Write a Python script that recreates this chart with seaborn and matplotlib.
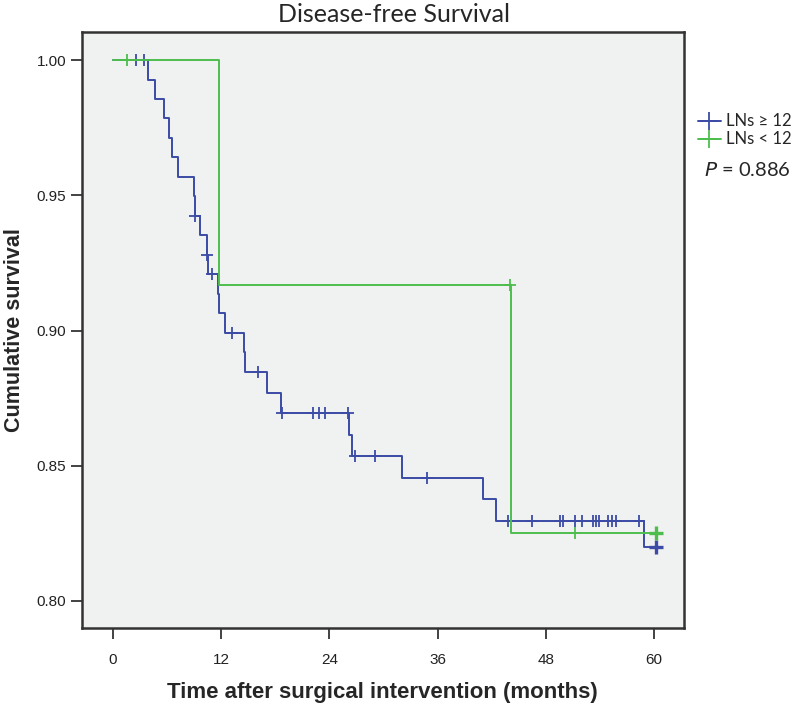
import numpy as np
import matplotlib
matplotlib.use("Agg")
import matplotlib.pyplot as plt
import seaborn as sns
from matplotlib.lines import Line2D

# Kaplan-Meier steps (months, cumulative survival)
blue_times = [0, 3.9, 4.7, 5.7, 6.2, 6.5, 7.2, 9.0, 9.1, 9.6, 10.4, 10.5, 11.7, 11.8, 12.4,
              14.5, 14.6, 17.1, 18.6, 26.2, 26.5, 32.1, 41.0, 42.5, 58.9, 60.2]
blue_surv = [1.0, 0.9928, 0.9856, 0.9784, 0.9712, 0.9640, 0.9568, 0.9496, 0.9424, 0.9352,
             0.9280, 0.9208, 0.9136, 0.9064, 0.8992, 0.8920, 0.8848, 0.8770, 0.8694, 0.8614,
             0.8536, 0.8456, 0.8376, 0.8297, 0.8200, 0.8200]
blue_censor = [2.6, 3.4, 9.1, 10.4, 11.0, 13.2, 16.1, 18.7, 22.2, 22.8, 23.5, 26.1, 26.9, 29.1,
               34.8, 43.8, 46.5, 49.6, 49.9, 51.2, 52.0, 53.3, 53.6, 53.9, 54.9, 55.4, 55.8,
               58.3, 60.2]

green_times = [0, 11.8, 44.2, 60.2]
green_surv = [1.0, 0.9167, 0.8250, 0.8250]
green_censor = [1.5, 44.0, 51.3, 60.2]

labels = ["LNs \u2265 12", "LNs < 12"]
colors = ["#3B4BA6", "#4DBE4D"]
x_ticks = [0, 12, 24, 36, 48, 60]
y_ticks = [0.80, 0.85, 0.90, 0.95, 1.00]
p_text = "0.886"


def step_value(times, surv, t):  # survival level of the curve at time t
    idx = np.searchsorted(times, t, side="right") - 1
    return np.array(surv)[idx]


sns.set_theme(style="white")
plt.rcParams["font.family"] = ["Liberation Sans", "DejaVu Sans"]
cal = ["Lato", "DejaVu Sans"]  # stand-in for the Calibri-like texts

fig = plt.figure(figsize=(8, 7.04), dpi=100)
ax = fig.add_axes([0.1025, 0.108, 0.752, 0.8466])
ax.set_facecolor("#F0F1F1")

groups = [(blue_times, blue_surv, blue_censor), (green_times, green_surv, green_censor)]
for (times, surv, cens), col in zip(groups, colors):
    sns.lineplot(x=times, y=surv, drawstyle="steps-post", estimator=None, color=col,
                 linewidth=1.4, ax=ax)
    cens_y = step_value(times, surv, np.array(cens))
    ax.plot(cens[:-1], cens_y[:-1], linestyle="none", marker="+", markersize=8,
            markeredgewidth=1.3, color=col)
    # several cases censored at the end of follow-up: heavier mark
    ax.plot(cens[-1:], cens_y[-1:], linestyle="none", marker="+", markersize=10,
            markeredgewidth=2.4, color=col)

ax.set_xlim(-3.44, 63.3)
ax.set_ylim(0.790, 1.0104)
ax.set_xticks(x_ticks)
ax.set_xticklabels([str(t) for t in x_ticks])
ax.set_yticks(y_ticks)
ax.set_yticklabels([f"{v:.2f}" for v in y_ticks])
ax.tick_params(axis="both", direction="out", length=8, width=1.2, color="#222222",
               labelsize=11, labelcolor="#222222", bottom=True, left=True)
ax.tick_params(axis="x", pad=10)
for sp in ax.spines.values():
    sp.set_color("#333333")
    sp.set_linewidth(1.8)

ax.set_xlabel("Time after surgical intervention (months)", fontsize=16, fontweight="bold",
              labelpad=11)
ax.set_ylabel("Cumulative survival", fontsize=15.5, fontweight="bold", labelpad=8)
fig.text(0.4925, 1 - 14 / 704, "Disease-free Survival", fontsize=18, family=cal,
         ha="center", va="center")

handles = [Line2D([0], [0], color=c, marker="+", markersize=13, markeredgewidth=1.3,
                  linewidth=1.4) for c in colors]
fig.legend(handles, labels, loc="upper left", bbox_to_anchor=(0.872, 0.839),
           frameon=False, borderpad=0, borderaxespad=0, handlelength=1.4,
           handletextpad=0.3, labelspacing=0.12, prop={"family": cal, "size": 12})
fig.text(0.88, 1 - 170 / 704, "$\\it{P}$ = " + p_text, fontsize=14.5, family=cal,
         va="center", ha="left")

fig.savefig("out.png", dpi=100)
